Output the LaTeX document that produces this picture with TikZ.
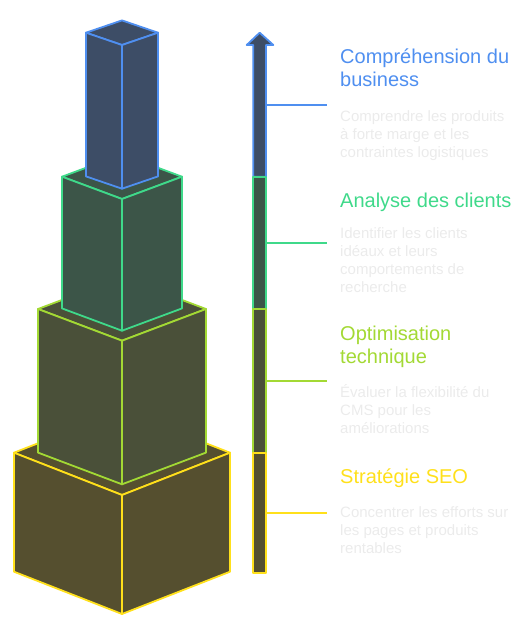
\documentclass[tikz,border=0pt]{standalone}
\usepackage{fontspec}
\setmainfont{Liberation Sans}
\usetikzlibrary{positioning}

\definecolor{bizE}{HTML}{4F8FF0}
\definecolor{bizF}{HTML}{3D4D66}
\definecolor{cliE}{HTML}{3FD98A}
\definecolor{cliF}{HTML}{3C5548}
\definecolor{techE}{HTML}{A3D934}
\definecolor{techF}{HTML}{4A5039}
\definecolor{seoE}{HTML}{FFE01B}
\definecolor{seoF}{HTML}{554F2F}
\definecolor{descgray}{HTML}{EBEBEB}

\tikzset{
  face/.style={line width=1.8pt, line join=round},
  title/.style={anchor=base west, inner sep=0pt, align=left,
    font=\fontsize{20}{23}\selectfont},
  desc/.style={anchor=base west, inner sep=0pt, align=left, text=descgray,
    font=\fontsize{15}{18}\selectfont},
  tick/.style={line width=1.8pt}
}

\begin{document}
\begin{tikzpicture}[x=1pt,y=-1pt]
    \useasboundingbox (0,0) rectangle (532,623);

    % Blocks
    \foreach \ec/\fc/\w/\d/\ft/\fb in {seoE/seoF/108/42.3/495/614,
        techE/techF/84/31.7/340.7/484.3, cliE/cliF/60/22.3/199/330.7,
        bizE/bizF/36/12.3/45/188.7}{
      \draw[face, draw=\ec, fill=\fc] (122-\w,\ft-\d) -- (122,\ft-2*\d)
        -- (122+\w,\ft-\d) -- (122,\ft) -- cycle;
      \draw[face, draw=\ec, fill=\fc] (122-\w,\ft-\d) -- (122,\ft)
        -- (122,\fb) -- (122-\w,\fb-\d) -- cycle;
      \draw[face, draw=\ec, fill=\fc] (122,\ft) -- (122+\w,\ft-\d)
        -- (122+\w,\fb-\d) -- (122,\fb) -- cycle;
    }

    % Scale
    \draw[face, draw=bizE, fill=bizF] (253.3,176.7) -- (253.3,45) -- (246.7,45)
      -- (259.7,32.7) -- (273.3,45) -- (266,45) -- (266,176.7) -- cycle;
    \foreach \ec/\fc/\ya/\yb in {cliE/cliF/176.7/309, techE/techF/309/452.7,
        seoE/seoF/452.7/572.7}{
      \draw[face, draw=\ec, fill=\fc] (253.3,\ya) rectangle (266,\yb);
    }

    % Labels (base = last line)
    \node[title, text=bizE] (biz) at (340,86.7) {Compréhension du\\business};
    \node[desc] (bizdesc) at (340,157.7)
      {Comprendre les produits\\à forte marge et les\\contraintes logistiques};
    \node[title, text=cliE] (cli) at (340,207.3) {Analyse des clients};
    \node[desc] (clidesc) at (340,292)
      {Identifier les clients\\idéaux et leurs\\comportements de\\recherche};
    \node[title, text=techE] (tech) at (340,363.3) {Optimisation\\technique};
    \node[desc] (techdesc) at (340,433.7)
      {Évaluer la flexibilité du\\CMS pour les\\améliorations};
    \node[title, text=seoE] (seo) at (340,483) {Stratégie SEO};
    \node[desc] (seodesc) at (340,553.7)
      {Concentrer les efforts sur\\les pages et produits\\rentables};

    % Ticks
    \coordinate (biztick) at (266,105);
    \coordinate (clitick) at (266,242.7);
    \coordinate (techtick) at (266,380.7);
    \coordinate (seotick) at (266,512.7);
    \draw[tick, bizE] (biztick) -- (biztick -| 326.7,0);
    \draw[tick, cliE] (clitick) -- (clitick -| 326.7,0);
    \draw[tick, techE] (techtick) -- (techtick -| 326.7,0);
    \draw[tick, seoE] (seotick) -- (seotick -| 326.7,0);
\end{tikzpicture}
\end{document}
